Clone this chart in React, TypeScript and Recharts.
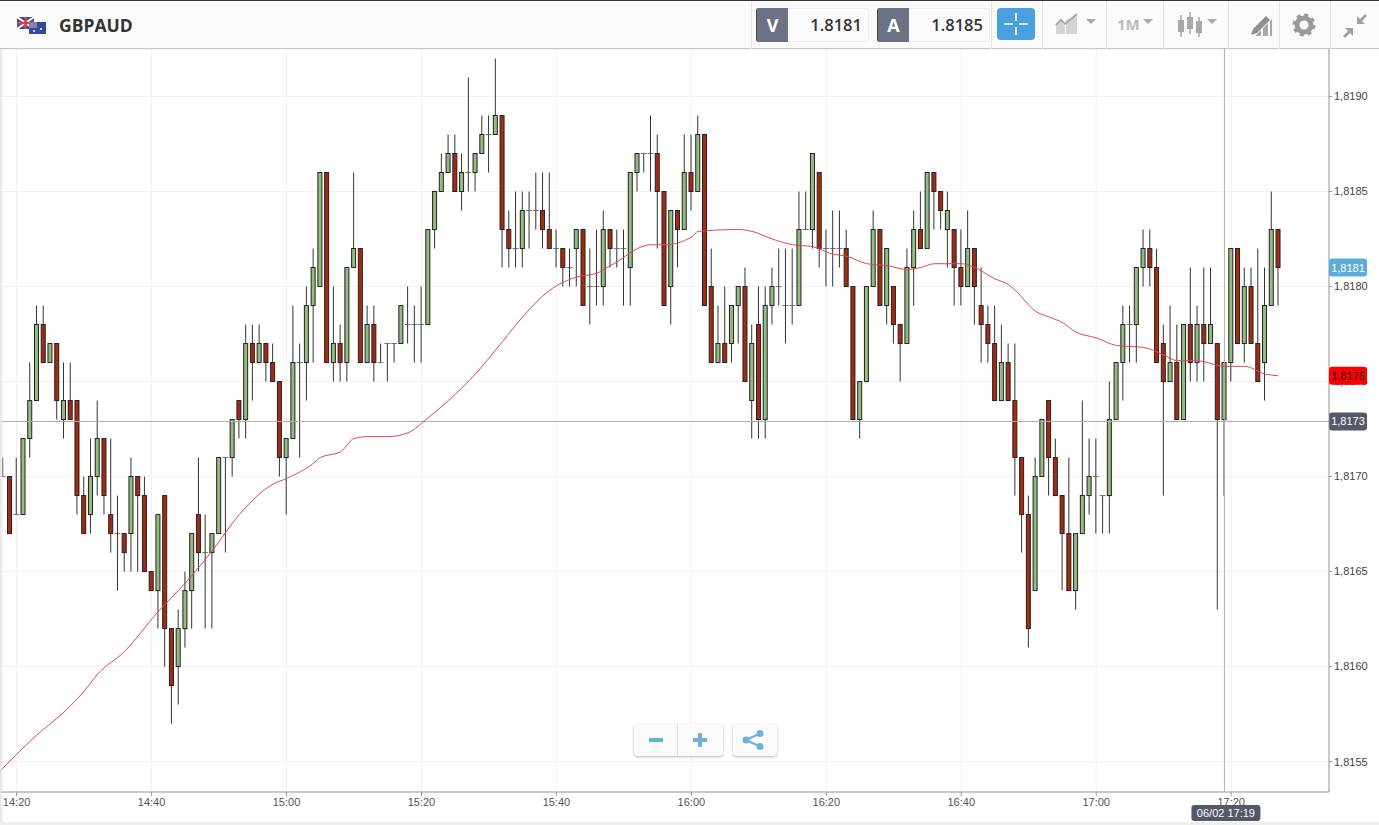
import React from 'react';
import {
  ComposedChart,
  Bar,
  Line,
  XAxis,
  YAxis,
  CartesianGrid,
  ReferenceLine
} from 'recharts';

// quotes are in ten-thousandths, 18170 = 1.8170; first candle is 14:18, one per minute
const opens = [
  18170,18170,18168,18168,18172,18174,18178,18176,18177,18173,
  18174,18174,18169,18168,18170,18172,18168,18167,18167,18167,
  18170,18169,18165,18164,18169,18162,18160,18162,18164,18168,
  18166,18166,18167,18171,18171,18174,18173,18177,18176,18177,
  18176,18175,18171,18172,18176,18176,18179,18180,18186,18176,
  18177,18176,18181,18182,18176,18178,18176,18177,18177,18177,
  18178,18178,18178,18178,18183,18185,18186,18187,18185,18186,
  18186,18187,18188,18188,18189,18183,18182,18182,18184,18184,
  18184,18183,18182,18182,18181,18182,18183,18180,18180,18180,
  18183,18182,18182,18181,18186,18187,18187,18187,18185,18180,
  18184,18183,18186,18185,18188,18180,18176,18177,18177,18179,
  18180,18174,18178,18173,18179,18180,18179,18179,18179,18183,
  18183,18186,18182,18182,18182,18182,18180,18173,18175,18180,
  18183,18179,18180,18178,18177,18181,18183,18182,18186,18185,
  18183,18183,18181,18180,18182,18179,18178,18177,18174,18176,
  18174,18171,18168,18164,18170,18174,18171,18169,18167,18164,
  18167,18169,18170,18169,18169,18173,18176,18178,18178,18181,
  18182,18181,18177,18175,18176,18173,18178,18176,18178,18177,
  18177,18173,18176,18182,18177,18180,18177,18176,18179,18183
];
const closes = [
  18170,18167,18168,18172,18174,18178,18176,18177,18174,18174,
  18173,18169,18167,18170,18172,18169,18167,18167,18166,18170,
  18169,18165,18164,18168,18162,18159,18162,18164,18167,18166,
  18166,18167,18171,18171,18173,18173,18177,18176,18177,18176,
  18175,18171,18172,18176,18176,18179,18181,18186,18176,18177,
  18176,18181,18182,18176,18178,18176,18176,18177,18177,18179,
  18178,18178,18178,18183,18185,18186,18187,18185,18186,18186,
  18187,18188,18188,18189,18183,18182,18182,18184,18184,18184,
  18183,18182,18182,18181,18181,18183,18179,18180,18180,18183,
  18182,18182,18182,18186,18187,18187,18187,18185,18179,18184,
  18183,18186,18185,18188,18179,18176,18177,18176,18179,18180,
  18175,18177,18173,18179,18180,18180,18179,18179,18183,18183,
  18187,18182,18182,18182,18182,18180,18173,18175,18180,18183,
  18179,18182,18178,18177,18181,18183,18182,18186,18185,18184,
  18184,18181,18180,18182,18180,18178,18177,18174,18176,18174,
  18171,18168,18162,18170,18173,18171,18169,18167,18164,18167,
  18169,18170,18170,18169,18173,18176,18178,18178,18181,18182,
  18181,18176,18175,18176,18173,18178,18176,18178,18177,18178,
  18173,18176,18182,18177,18180,18177,18175,18179,18183,18181
];
const highs = [
  18171,18170,18171,18172,18176,18179,18179,18177,18177,18176,
  18176,18174,18170,18172,18174,18172,18172,18169,18167,18171,
  18170,18170,18165,18168,18169,18162,18163,18165,18167,18171,
  18168,18167,18171,18171,18173,18174,18178,18178,18178,18177,
  18177,18175,18172,18179,18177,18180,18182,18186,18186,18180,
  18178,18181,18186,18182,18179,18179,18177,18177,18177,18179,
  18180,18179,18180,18183,18185,18187,18188,18188,18187,18191,
  18187,18189,18189,18192,18189,18184,18185,18185,18185,18186,
  18186,18186,18183,18182,18182,18183,18183,18182,18183,18184,
  18183,18183,18183,18186,18187,18187,18189,18188,18185,18184,
  18184,18188,18188,18189,18188,18182,18179,18180,18179,18180,
  18181,18178,18180,18180,18181,18182,18182,18182,18185,18185,
  18187,18186,18183,18184,18184,18183,18180,18175,18180,18184,
  18183,18182,18180,18178,18182,18184,18185,18186,18186,18185,
  18185,18183,18183,18184,18182,18181,18179,18179,18178,18177,
  18177,18171,18169,18171,18173,18174,18172,18169,18171,18167,
  18174,18172,18172,18169,18175,18176,18179,18179,18181,18183,
  18183,18182,18178,18179,18178,18178,18181,18179,18181,18181,
  18177,18176,18182,18182,18181,18181,18182,18181,18185,18183
];
const lows = [
  18170,18167,18168,18168,18171,18174,18176,18176,18173,18172,
  18173,18168,18167,18167,18169,18168,18166,18164,18165,18165,
  18165,18165,18164,18162,18160,18157,18158,18161,18162,18165,
  18162,18162,18167,18166,18170,18172,18172,18174,18176,18175,
  18175,18170,18168,18172,18171,18174,18176,18180,18176,18175,
  18175,18175,18181,18176,18176,18175,18176,18175,18176,18177,
  18177,18176,18176,18178,18182,18185,18186,18185,18184,18185,
  18185,18187,18186,18188,18181,18181,18181,18181,18182,18183,
  18182,18182,18181,18180,18180,18180,18179,18178,18179,18179,
  18181,18181,18179,18179,18185,18186,18185,18182,18179,18178,
  18181,18183,18184,18185,18179,18176,18176,18176,18176,18177,
  18175,18172,18172,18172,18178,18179,18177,18178,18179,18183,
  18182,18181,18180,18180,18181,18180,18173,18172,18175,18180,
  18179,18178,18177,18175,18177,18179,18182,18182,18183,18183,
  18181,18179,18179,18180,18178,18176,18176,18174,18174,18174,
  18169,18166,18161,18164,18170,18169,18169,18164,18164,18163,
  18167,18168,18167,18167,18167,18173,18174,18176,18176,18180,
  18180,18176,18169,18175,18173,18173,18175,18175,18175,18177,
  18163,18169,18175,18177,18176,18177,18175,18174,18179,18179
];

// moving average read at these candle numbers (-1 is the minute left of the first candle)
const maCandles = [
  -1,5,9,12,14,18,23,27,31,35,40,42,46,47,50,52,54,57,60,63,66,70,74,77,81,85,88,90,91,94,
  96,98,102,103,109,111,114,117,120,123,125,128,131,134,136,138,141,142,144,147,149,150,
  153,155,157,159,162,165,169,172,174,177,181,184,187,189
];
const maQuotes = [
  18154.3,18156.4,18157.6,18158.7,18159.6,18160.8,18162.9,18164.4,18166.1,18168.0,18169.6,18169.9,
  18170.7,18171.0,18171.3,18172.0,18172.1,18172.1,18172.3,18173.1,18174.0,18175.4,18177.1,18178.4,
  18179.8,18180.5,18180.7,18181.1,18181.3,18182.0,18182.2,18182.2,18182.6,18182.9,18183.0,18182.9,
  18182.5,18182.2,18182.1,18181.7,18181.6,18181.2,18181.1,18180.9,18181.0,18181.2,18181.2,18181.2,
  18181.0,18180.4,18180.1,18179.8,18178.7,18178.4,18178.1,18177.6,18177.3,18176.9,18176.8,18176.4,
  18176.1,18176.1,18175.8,18175.8,18175.4,18175.3
];

const priceTicks = [1.8155, 1.816, 1.8165, 1.817, 1.8175, 1.818, 1.8185, 1.819];
const timeTicks = ['14:20','14:40','15:00','15:20','15:40','16:00','16:20','16:40','17:00','17:20'];

const SLOTS = 198;
const toTime = (minutes: number) => {
  const h = Math.floor(minutes / 60);
  const m = minutes % 60;
  return `${h}:${m < 10 ? '0' : ''}${m}`;
};

const chartData = Array.from({ length: SLOTS }, (_, slot) => {
  const i = slot - 1;
  const maAt = maCandles.indexOf(i);
  const row: any = { time: toTime(14 * 60 + 17 + slot) };
  if (maAt >= 0) row.ma = maQuotes[maAt] / 10000;
  if (i >= 0 && i < opens.length) {
    row.open = opens[i] / 10000;
    row.close = closes[i] / 10000;
    row.high = highs[i] / 10000;
    row.low = lows[i] / 10000;
    row.range = [row.low, row.high];
  }
  return row;
});

const formatPrice = (v: number) => v.toFixed(4).replace('.', ',');

function Candle(props: any) {
  const { x, y, width, height, payload } = props;
  if (!payload || payload.open == null || !height) return null;
  const perUnit = height / (payload.high - payload.low);
  const mid = x + width / 2;
  const yOpen = y + (payload.high - payload.open) * perUnit;
  const yClose = y + (payload.high - payload.close) * perUnit;
  const top = Math.min(yOpen, yClose);
  const bottom = Math.max(yOpen, yClose);
  return (
    <g>
      <line x1={mid} x2={mid} y1={y} y2={y + height} stroke="#333" strokeWidth={1} />
      {payload.open === payload.close ? (
        <line x1={mid - 3} x2={mid + 3} y1={top} y2={top} stroke="#555" strokeWidth={0.8} />
      ) : (
        <rect
          x={x}
          y={top}
          width={width}
          height={bottom - top}
          fill={payload.close > payload.open ? '#92bd7f' : '#a52a12'}
          stroke="#222"
          strokeWidth={1}
        />
      )}
    </g>
  );
}

function PriceTag(props: any) {
  const { viewBox, text, fill, color } = props;
  if (!viewBox) return null;
  const left = viewBox.x + viewBox.width;
  return (
    <g>
      <rect x={left} y={viewBox.y - 9} width={38} height={18} rx={3} fill={fill} />
      <text x={left + 19} y={viewBox.y + 4} textAnchor="middle" fontSize={11} fontFamily="Liberation Sans" fill={color}>
        {text}
      </text>
    </g>
  );
}

function TimeTag(props: any) {
  const { viewBox, text } = props;
  if (!viewBox) return null;
  const bottom = viewBox.y + viewBox.height;
  return (
    <g>
      <rect x={viewBox.x - 33} y={bottom + 13} width={69} height={16} rx={3} fill="#55586a" />
      <text x={viewBox.x + 1.5} y={bottom + 25} textAnchor="middle" fontSize={11} fontFamily="Liberation Sans" fill="#fff">
        {text}
      </text>
    </g>
  );
}

const box = (left: number, top: number, width: number, height: number): React.CSSProperties => ({
  position: 'absolute',
  left,
  top,
  width,
  height
});

function Quote({ left, letter, value }: { left: number; letter: string; value: string }) {
  return (
    <>
      <div style={{ ...box(left, 7, 113, 34), border: '1px solid #eee', borderRadius: 3, boxSizing: 'border-box' }} />
      <div
        style={{
          ...box(left, 7, 32, 34),
          background: '#6d7186',
          borderRadius: '3px 0 0 3px',
          borderLeft: '1px solid #444',
          boxSizing: 'border-box',
          color: '#fff',
          font: '700 18px/34px "Open Sans"',
          textAlign: 'center'
        }}
      >
        {letter}
      </div>
      <div style={{ ...box(left + 32, 7, 74, 34), color: '#333', font: '600 16.5px/34px "Open Sans"', textAlign: 'right' }}>
        {value}
      </div>
    </>
  );
}

function Header() {
  const grey = '#a8a8a8';
  return (
    <div style={{ ...box(0, 0, 1379, 49), background: '#fbfbfb', borderBottom: '1px solid #c4c4c4', borderTop: '1px solid #333', boxSizing: 'border-box' }}>
      <svg style={box(17, 16, 30, 18)} viewBox="0 0 30 18">
        <rect x={0} y={0} width={17} height={12} fill="#3d4f8f" />
        <path d="M0 0L17 12M17 0L0 12" stroke="#fff" strokeWidth={2} />
        <path d="M8.5 0V12M0 6H17" stroke="#d8434b" strokeWidth={2.5} />
        <rect x={12} y={5} width={17} height={12} fill="#2f4a9e" />
        <rect x={12} y={5} width={8} height={6} fill="#8a7fa8" />
        <circle cx={24} cy={12} r={1} fill="#fff" />
        <circle cx={17} cy={14} r={1} fill="#fff" />
      </svg>
      <div style={{ ...box(59, 0, 100, 48), color: '#333', font: '700 17.5px/48px "Open Sans"' }}>GBPAUD</div>
      {[751, 991, 1042, 1106, 1163, 1228, 1279, 1330].map(x => (
        <div key={x} style={{ ...box(x, 0, 1, 48), background: '#e6e6e6' }} />
      ))}
      <Quote left={756} letter="V" value="1.8181" />
      <Quote left={877} letter="A" value="1.8185" />
      <svg style={box(997, 7, 38, 32)} viewBox="0 0 38 32">
        <rect width={38} height={32} rx={4} fill="#4a9fdc" />
        <path d="M19 5V13M19 19V27M7 16H16M22 16H31" stroke="#fff" strokeWidth={1.6} />
      </svg>
      <svg style={box(1050, 7, 230, 34)} viewBox="0 0 230 34" fill={grey}>
        <path d="M6 26V18L11 14L15 18V26ZM16 26V12L27 8V26Z" fill="#d4d4d4" />
        <path d="M6 17L11 12L15 16L27 6" stroke={grey} strokeWidth={2} fill="none" />
        <path d="M36 11H46L41 16Z" />
        <text x={67} y={22} fontSize={15} fontWeight={700} fontFamily="Open Sans" fill="#bbb">1M</text>
        <path d="M93 11H103L98 16Z" />
        <path d="M131 7V29M140 4V26M149 9V29" stroke={grey} strokeWidth={1.5} />
        <rect x={128} y={12} width={6} height={12} />
        <rect x={137} y={9} width={6} height={12} />
        <rect x={146} y={13} width={6} height={12} />
        <path d="M157 11H167L162 16Z" />
        <path d="M205 28L211 22V28ZM213 28V20L218 15V28ZM220 28V13L222 11V28Z" />
        <path d="M201 27L203 21L216 8L220 12L207 25Z" fill="#8e8e8e" />
      </svg>
      <svg style={box(1290, 7, 28, 34)} viewBox="0 0 28 34">
        <circle cx={14} cy={17} r={7} fill="none" stroke="#9a9a9a" strokeWidth={5} />
        <circle cx={14} cy={17} r={10} fill="none" stroke="#9a9a9a" strokeWidth={3} strokeDasharray="4 3.85" />
      </svg>
      <svg style={box(1340, 10, 30, 30)} viewBox="0 0 30 30" fill="#a0a0a0">
        <path d="M17 5V13H25L22 10L27 5L25 3L20 8ZM13 17V25L10 22L5 27L3 25L8 20L5 17Z" />
      </svg>
    </div>
  );
}

function ZoomButtons() {
  const face: React.CSSProperties = { background: '#fafafa', borderRadius: 4, boxShadow: '0 1px 3px rgba(0,0,0,0.28)' };
  return (
    <>
      <div style={{ ...box(634, 724, 89, 32), ...face }} />
      <div style={{ ...box(677, 724, 1, 32), background: '#ddd' }} />
      <div style={{ ...box(733, 724, 44, 32), ...face }} />
      <svg style={box(634, 724, 143, 32)} viewBox="0 0 143 32" fill="#6db2dc">
        <rect x={15} y={14} width={14} height={4} />
        <path d="M59 14H64V9H68V14H73V18H68V23H64V18H59Z" />
        <circle cx={112} cy={16} r={3.5} />
        <circle cx={126} cy={9.5} r={3.5} />
        <circle cx={126} cy={22.5} r={3.5} />
        <path d="M112 16L126 9.5M112 16L126 22.5" stroke="#6db2dc" strokeWidth={2} />
      </svg>
    </>
  );
}

export default function App() {
  return (
    <div style={{ ...box(0, 0, 1379, 825), overflow: 'hidden', background: '#fff' }}>
      <div style={box(-7, 0, 1386, 825)}>
        <ComposedChart
          width={1386}
          height={825}
          data={chartData}
          barSize={4}
          barCategoryGap={0}
          margin={{ top: 49, right: 0, bottom: 0, left: 0 }}
        >
          <CartesianGrid stroke="#f1f1f1" />
          <XAxis
            dataKey="time"
            ticks={timeTicks}
            interval={0}
            height={33}
            stroke="#999"
            tickSize={4}
            tick={{ fontSize: 11, fill: '#555', fontFamily: 'Liberation Sans' }}
          />
          <YAxis
            orientation="right"
            width={50}
            domain={[1.81534, 1.81925]}
            allowDataOverflow
            ticks={priceTicks}
            interval={0}
            tickFormatter={formatPrice}
            stroke="#999"
            tickSize={3}
            tick={{ fontSize: 11, fill: '#444', fontFamily: 'Liberation Sans' }}
          />
          <ReferenceLine y={1.81729} stroke="#adadad" label={<PriceTag text="1,8173" fill="#55586a" color="#fff" />} />
          <ReferenceLine x="17:19" stroke="#adadad" label={<TimeTag text="06/02 17:19" />} />
          <Bar dataKey="range" shape={<Candle />} isAnimationActive={false} />
          <Line
            dataKey="ma"
            type="monotone"
            stroke="#e2474c"
            strokeWidth={1}
            dot={false}
            connectNulls
            isAnimationActive={false}
          />
          <ReferenceLine y={1.8181} stroke="none" zIndex={2000} label={<PriceTag text="1,8181" fill="#5dadd9" color="#fff" />} />
          <ReferenceLine y={1.81753} stroke="none" zIndex={2000} label={<PriceTag text="1,8175" fill="#fa0000" color="#222" />} />
        </ComposedChart>
      </div>
      <div style={{ ...box(0, 49, 4, 776), background: 'linear-gradient(to right,#e4e4e4,rgba(255,255,255,0))' }} />
      <div style={{ ...box(0, 822, 1379, 3), background: '#eee' }} />
      <Header />
      <ZoomButtons />
    </div>
  );
}
